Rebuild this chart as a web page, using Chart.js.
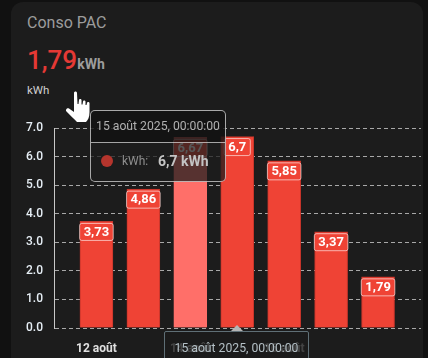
<!DOCTYPE html>
<html>
<head>
<meta charset="utf-8">
<script src="https://cdn.jsdelivr.net/npm/chart.js@4"></script>
<style>
  html, body { margin:0; padding:0; background:#111; overflow:hidden; }
  body { width:428px; height:358px; position:relative; font-family:Roboto, sans-serif; }
  #card { position:absolute; left:11px; top:2px; width:412px; height:370px; background:#1c1c1c; border-radius:12px; }
  #chartBox { position:absolute; left:0; top:0; width:428px; height:358px; }
  .txt { position:absolute; white-space:nowrap; }
  #title { left:27px; top:13px; font-size:16px; color:#9c9c9c; }
  #value { left:27px; top:45px; font-size:26px; font-weight:500; color:#e53935; }
  #value span { font-size:14px; font-weight:bold; color:#9c9c9c; }
  #unit { left:27px; top:83px; font-size:11.5px; color:#cfcfcf; }
  #tip { position:absolute; left:90px; top:110px; width:134px; height:70px; box-sizing:content-box; border:1px solid rgba(255,255,255,.62); border-radius:5px; background:rgba(28,28,28,.74); }
  #tipTitle { height:31px; line-height:31px; text-align:center; font-size:12.2px; color:#b0b0b0; background:rgba(0,0,0,.3); border-bottom:1px solid rgba(255,255,255,.62); border-radius:5px 5px 0 0; }
  #tipDot { position:absolute; left:10px; top:44px; width:12px; height:12px; border-radius:50%; background:#b5352d; }
  #tipName { left:31px; top:43px; font-size:12px; color:#8f8f8f; }
  #tipVal { left:67px; top:42px; font-size:14px; font-weight:bold; color:#c4c4c4; }
  #xTip { position:absolute; left:164px; top:331px; width:143px; height:40px; border:1px solid #5f6f76; border-radius:2px; background:rgba(28,28,28,.8); text-align:center; line-height:33px; font-size:12.2px; color:#b4c0c6; }
  #xArrow { position:absolute; left:231px; top:325px; width:0; height:0; border-left:6px solid transparent; border-right:6px solid transparent; border-bottom:6px solid #b5b5b5; }
  #hand { position:absolute; left:65px; top:91px; }
</style>
</head>
<body>
<div id="card"></div>
<div class="txt" id="title">Conso PAC</div>
<div class="txt" id="value"></div>
<div class="txt" id="unit"></div>
<div id="chartBox"><canvas id="consoChart" width="428" height="358"></canvas></div>
<div id="xArrow"></div>
<div id="xTip"></div>
<div id="tip">
  <div id="tipTitle"></div>
  <div id="tipDot"></div>
  <div class="txt" id="tipName"></div>
  <div class="txt" id="tipVal"></div>
</div>
<svg id="hand" width="26" height="32" viewBox="0 0 26 32">
  <path d="M9 2 C9 0 12 0 12 2 L12.5 13 L13.5 13 L14 9 C14 7.5 16.5 7.5 16.5 9 L16.5 13.5 L17.5 13.5 L18 10.5 C18 9 20.5 9 20.5 10.5 L20.5 14 L21.5 14 L22 12 C22 10.5 24.5 10.5 24.5 12 L24.5 21 C24.5 26 23 29 21 31 L12 31 C9 28 5 24 1.5 20.5 C0 19 2 16.5 4 17.5 L9 21 Z" fill="#fff"/>
</svg>
<script>
// values
const days = [12, 13, 14, 15, 16, 17, 18];
const kwh = [3.73, 4.86, 6.67, 6.7, 5.85, 3.37, 1.79];
const kwhLabels = ['3,73', '4,86', '6,67', '6,7', '5,85', '3,37', '1,79'];
const tickDays = [12, 14, 16];
const tickLabels = ['12 août', '14 août', '16 août'];
const lastValue = '1,79';
const unitName = 'kWh';
const tipDate = '15 août 2025, 00:00:00';
const tipValue = '6,7 kWh';
const hoverDay = 14;

document.getElementById('value').innerHTML = lastValue + '<span>' + unitName + '</span>';
document.getElementById('unit').textContent = unitName;
document.getElementById('tipTitle').textContent = tipDate;
document.getElementById('tipName').textContent = unitName + ':';
document.getElementById('tipVal').textContent = tipValue;
document.getElementById('xTip').textContent = tipDate;

// white boxed labels inside the top of each bar
const barLabels = {
  id: 'barLabels',
  afterDatasetsDraw(chart) {
    const ctx = chart.ctx;
    const bars = chart.getDatasetMeta(0).data;
    ctx.save();
    ctx.font = 'bold 13px Roboto';
    ctx.textAlign = 'center';
    ctx.textBaseline = 'middle';
    bars.forEach((bar, i) => {
      const w = ctx.measureText(kwhLabels[i]).width + 8;
      const top = bar.y + 2;
      ctx.beginPath();
      ctx.roundRect(bar.x - w / 2, top, w, 17, 2);
      ctx.fillStyle = '#ef4335';
      ctx.fill();
      ctx.lineWidth = 1;
      ctx.strokeStyle = 'rgba(255,255,255,.6)';
      ctx.stroke();
      ctx.fillStyle = '#fff';
      ctx.fillText(kwhLabels[i], bar.x, top + 9);
    });
    ctx.restore();
  }
};

new Chart(document.getElementById('consoChart').getContext('2d'), {
  type: 'bar',
  data: {
    datasets: [{
      data: days.map((d, i) => ({ x: d, y: kwh[i] })),
      backgroundColor: days.map(d => d === hoverDay ? '#ff6f69' : '#ef4335'),
      borderColor: days.map(d => d === hoverDay ? '#ff6f69' : '#c5352b'),
      borderWidth: 1,
      barThickness: 33
    }]
  },
  plugins: [barLabels],
  options: {
    responsive: false,
    animation: false,
    layout: { padding: { top: 128, right: 7, left: 0, bottom: 0 } },
    plugins: { legend: { display: false }, tooltip: { enabled: false } },
    scales: {
      x: {
        type: 'linear',
        offset: false,
        min: 11.096,
        max: 18.915,
        afterFit(axis) { axis.height = 30; },
        afterBuildTicks(axis) { axis.ticks = tickDays.map(v => ({ value: v })); },
        grid: { display: false, offset: false },
        border: { display: false },
        ticks: {
          autoSkip: false,
          maxRotation: 0,
          padding: 6,
          color: '#e0e0e0',
          font: { family: 'Roboto', size: 12, weight: 'bold' },
          callback: v => tickLabels[tickDays.indexOf(v)]
        }
      },
      y: {
        min: 0,
        max: 7,
        afterFit(axis) { axis.width = 54; },
        grid: {
          color: 'rgba(255,255,255,.62)',
          drawTicks: false
        },
        border: { display: true, color: '#c8c8c8', width: 1, dash: [4, 3] },
        ticks: {
          stepSize: 1,
          padding: 11,
          color: '#e6eef5',
          font: { family: 'Roboto', size: 12, weight: '500' },
          callback: v => v.toFixed(1)
        }
      }
    }
  }
});
</script>
</body>
</html>
